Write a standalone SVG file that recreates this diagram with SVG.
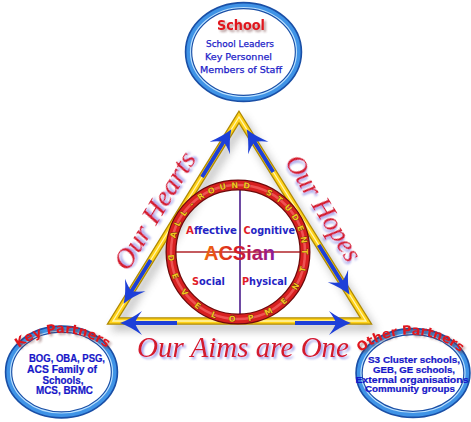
<svg xmlns="http://www.w3.org/2000/svg" width="471" height="422" viewBox="0 0 471 422">
<defs>
<style>
.ring1{fill:#fff;stroke:#1a4fa6;stroke-width:7.5}
.ring2{fill:none;stroke:#3f93e6;stroke-width:4.2}
.ring3{fill:none;stroke:#b8e0ff;stroke-width:1.2}
.title{font-family:"DejaVu Sans",sans-serif;font-weight:bold;fill:#e0141e;filter:url(#tsh)}
.body{font-family:"Liberation Sans",sans-serif;font-weight:bold;fill:#1616c8;stroke:#1616c8;stroke-width:.2;text-anchor:middle}
.sbody{font-family:"DejaVu Sans",sans-serif;font-size:9.5px;fill:#1c1cc8;stroke:#1c1cc8;stroke-width:.25;text-anchor:middle}
.script{font-family:"Liberation Serif",serif;font-style:italic;fill:#d41a2c;filter:url(#ssh)}
.quad{font-family:"DejaVu Sans",sans-serif;font-weight:bold;font-size:10.5px;fill:#2424c4}
.cap{fill:#e01c28}
.bead{font-family:"DejaVu Sans",sans-serif;font-weight:bold;font-size:8px;fill:#f2c420;stroke:#4a2800;stroke-width:.6;paint-order:stroke;text-anchor:middle}
.arrow{fill:none;stroke:#1d3fd8;stroke-width:4;marker-end:url(#ah)}
.tri{fill:none;stroke-linejoin:miter}
</style>
<marker id="ah" viewBox="-23 -13 24 26" markerWidth="24" markerHeight="26" refX="-9" refY="0" orient="auto" markerUnits="userSpaceOnUse">
<path d="M1,0 Q-9,-3.5 -21,-12 Q-15,-4 -14,0 Q-15,4 -21,12 Q-9,3.5 1,0 Z" fill="#1d3fd8"/>
</marker>
<filter id="tsh" x="-20%" y="-40%" width="140%" height="180%">
<feGaussianBlur in="SourceAlpha" stdDeviation="1"/>
<feOffset dx="1.5" dy="1.5" result="b"/>
<feFlood flood-color="#6a3030" flood-opacity=".5"/>
<feComposite in2="b" operator="in"/>
<feMerge><feMergeNode/><feMergeNode in="SourceGraphic"/></feMerge>
</filter>
<filter id="ssh" x="-20%" y="-40%" width="140%" height="180%">
<feGaussianBlur in="SourceAlpha" stdDeviation="1.2"/>
<feOffset dx="2" dy="2" result="b"/>
<feFlood flood-color="#5a5ad8" flood-opacity=".6"/>
<feComposite in2="b" operator="in"/>
<feMerge><feMergeNode/><feMergeNode in="SourceGraphic"/></feMerge>
</filter>
<filter id="blur4" x="-20%" y="-20%" width="140%" height="140%"><feGaussianBlur stdDeviation="4"/></filter>
<linearGradient id="acs" x1="0" y1="0" x2="1" y2="0">
<stop offset="0" stop-color="#f06a10"/><stop offset=".45" stop-color="#d81c24"/><stop offset="1" stop-color="#8a1ca0"/>
</linearGradient>
<path id="kpArc" d="M17.4,349 A71.5,71.5 0 0 1 107.6,349"/>
<path id="opArc" d="M360.5,352.5 A78.5,78.5 0 0 1 460.5,352.5"/>
</defs>
<rect width="471" height="422" fill="#fff"/>

<g id="triangle">
<polygon points="243,123 117,327 370,327" class="tri" stroke="#777" stroke-width="8" opacity=".45" filter="url(#blur4)"/>
<polygon points="239,117 113,321 366,321" class="tri" stroke="#b08a00" stroke-width="7.5"/>
<polygon points="239,117 113,321 366,321" class="tri" stroke="#ffd21a" stroke-width="5"/>
<polygon points="239,117 113,321 366,321" class="tri" stroke="#fff6b0" stroke-width="1.3"/>
</g>

<g id="connectors">
<path class="arrow" d="M202,177 L226.1,137.8"/>
<path class="arrow" d="M150.7,260 L128.9,295.2"/>
<path class="arrow" d="M273.2,172 L251.9,137.8"/>
<path class="arrow" d="M318.7,245 L344.3,286.2"/>
<path class="arrow" d="M177,323 L130,323"/>
<path class="arrow" d="M295,323 L341,323"/>
</g>

<g id="labels">
<text class="script" font-size="28" transform="translate(162.5,215.3) rotate(-58.7)" x="-66.5" y="0" textLength="133" lengthAdjust="spacingAndGlyphs">Our Hearts</text>
<text class="script" font-size="28" transform="translate(316,212.8) rotate(58.3)" x="-60" y="0" textLength="120" lengthAdjust="spacingAndGlyphs">Our Hopes</text>
<text class="script" font-size="30" x="137" y="357" textLength="212" lengthAdjust="spacingAndGlyphs">Our Aims are One</text>
</g>

<g id="center">
<line x1="175" y1="252" x2="303" y2="252" stroke="#b0242a" stroke-width="1.6"/>
<line x1="240" y1="189" x2="240" y2="318" stroke="#4a1c8c" stroke-width="1.6"/>
<circle cx="238" cy="252" r="67" fill="none" stroke="#6e0a0a" stroke-width="11"/>
<circle cx="238" cy="252" r="67" fill="none" stroke="#d82020" stroke-width="8.5"/>
<circle cx="238" cy="252" r="67" fill="none" stroke="#f46060" stroke-width="2.5" opacity=".8"/>
<g class="bead">
<text transform="translate(173.3,234.7) rotate(-75)" y="2.9">A</text>
<text transform="translate(177.4,223.4) rotate(-64.7)" y="2.9">L</text>
<text transform="translate(183.5,213.0) rotate(-54.4)" y="2.9">L</text>
<text transform="translate(191.4,203.9) rotate(-44.1)" y="2.9">-</text>
<text transform="translate(200.7,196.3) rotate(-33.8)" y="2.9">R</text>
<text transform="translate(211.3,190.6) rotate(-23.5)" y="2.9">O</text>
<text transform="translate(222.7,186.8) rotate(-13.2)" y="2.9">U</text>
<text transform="translate(234.6,185.1) rotate(-2.9)" y="2.9">N</text>
<text transform="translate(246.6,185.6) rotate(7.4)" y="2.9">D</text>
<text transform="translate(269.5,192.8) rotate(28)" y="2.9">S</text>
<text transform="translate(279.5,199.4) rotate(38.3)" y="2.9">T</text>
<text transform="translate(288.3,207.7) rotate(48.6)" y="2.9">U</text>
<text transform="translate(295.4,217.4) rotate(58.9)" y="2.9">D</text>
<text transform="translate(300.6,228.2) rotate(69.2)" y="2.9">E</text>
<text transform="translate(303.9,239.8) rotate(79.5)" y="2.9">N</text>
<text transform="translate(305.0,251.8) rotate(89.8)" y="2.9">T</text>
<text transform="translate(171.3,257.8) rotate(85)" y="2.9">D</text>
<text transform="translate(175.4,276.0) rotate(69)" y="2.9">E</text>
<text transform="translate(184.5,292.3) rotate(53)" y="2.9">V</text>
<text transform="translate(197.7,305.5) rotate(37)" y="2.9">E</text>
<text transform="translate(214.0,314.6) rotate(21)" y="2.9">L</text>
<text transform="translate(232.2,318.7) rotate(5)" y="2.9">O</text>
<text transform="translate(250.8,317.8) rotate(-11)" y="2.9">P</text>
<text transform="translate(268.4,311.7) rotate(-27)" y="2.9">M</text>
<text transform="translate(283.7,301.0) rotate(-43)" y="2.9">E</text>
<text transform="translate(295.4,286.5) rotate(-59)" y="2.9">N</text>
<text transform="translate(302.7,269.3) rotate(-75)" y="2.9">T</text>
</g>
<text class="quad" x="186" y="233.5" textLength="51" lengthAdjust="spacingAndGlyphs"><tspan class="cap">A</tspan>ffective</text>
<text class="quad" x="243.5" y="233.5" textLength="51.5" lengthAdjust="spacingAndGlyphs"><tspan class="cap">C</tspan>ognitive</text>
<text class="quad" x="192" y="284.5" textLength="33" lengthAdjust="spacingAndGlyphs"><tspan class="cap">S</tspan>ocial</text>
<text class="quad" x="242" y="284.5" textLength="45" lengthAdjust="spacingAndGlyphs"><tspan class="cap">P</tspan>hysical</text>
<text x="204" y="260" font-family="Liberation Sans, sans-serif" font-weight="bold" font-size="21" fill="url(#acs)" textLength="71" lengthAdjust="spacingAndGlyphs">ACSian</text>
</g>

<g id="school">
<ellipse class="ring1" cx="243.5" cy="52" rx="55" ry="46.5"/>
<ellipse class="ring2" cx="243.5" cy="52" rx="55" ry="46.5"/>
<ellipse class="ring3" cx="243.5" cy="52" rx="53" ry="44.5"/>
<text class="title" x="241" y="30" font-size="14" text-anchor="middle" textLength="48" lengthAdjust="spacingAndGlyphs">School</text>
<text class="sbody" x="240" y="47" textLength="68" lengthAdjust="spacingAndGlyphs">School Leaders</text>
<text class="sbody" x="238.5" y="60" textLength="67" lengthAdjust="spacingAndGlyphs">Key Personnel</text>
<text class="sbody" x="241" y="73" textLength="82" lengthAdjust="spacingAndGlyphs">Members of Staff</text>
</g>

<g id="key-partners">
<ellipse class="ring1" cx="61.5" cy="372" rx="53" ry="43"/>
<ellipse class="ring2" cx="61.5" cy="372" rx="53" ry="43"/>
<ellipse class="ring3" cx="61.5" cy="372" rx="51" ry="41"/>
<text class="title" font-size="13"><textPath href="#kpArc" startOffset="50%" text-anchor="middle">Key Partners</textPath></text>
<text class="body" font-size="10.2" x="67" y="362" textLength="76" lengthAdjust="spacingAndGlyphs">BOG, OBA, PSG,</text>
<text class="body" font-size="10.2" x="62" y="373" textLength="70" lengthAdjust="spacingAndGlyphs">ACS Family of</text>
<text class="body" font-size="10.2" x="63" y="383.5" textLength="41" lengthAdjust="spacingAndGlyphs">Schools,</text>
<text class="body" font-size="10.2" x="64.5" y="394" textLength="57" lengthAdjust="spacingAndGlyphs">MCS, BRMC</text>
</g>

<g id="other-partners">
<ellipse class="ring1" cx="413" cy="373" rx="54" ry="41.5"/>
<ellipse class="ring2" cx="413" cy="373" rx="54" ry="41.5"/>
<ellipse class="ring3" cx="413" cy="373" rx="52" ry="39.5"/>
<text class="title" font-size="12.8"><textPath href="#opArc" startOffset="50%" text-anchor="middle">Other Partners</textPath></text>
<text class="body" font-size="9.2" x="414" y="363" textLength="92" lengthAdjust="spacingAndGlyphs">S3 Cluster schools,</text>
<text class="body" font-size="9.2" x="414" y="372.8" textLength="82" lengthAdjust="spacingAndGlyphs">GEB, GE schools,</text>
<text class="body" font-size="9.2" x="412" y="382.6" textLength="113" lengthAdjust="spacingAndGlyphs">External organisations</text>
<text class="body" font-size="9.2" x="410" y="392.4" textLength="90" lengthAdjust="spacingAndGlyphs">Community groups</text>
</g>
</svg>
